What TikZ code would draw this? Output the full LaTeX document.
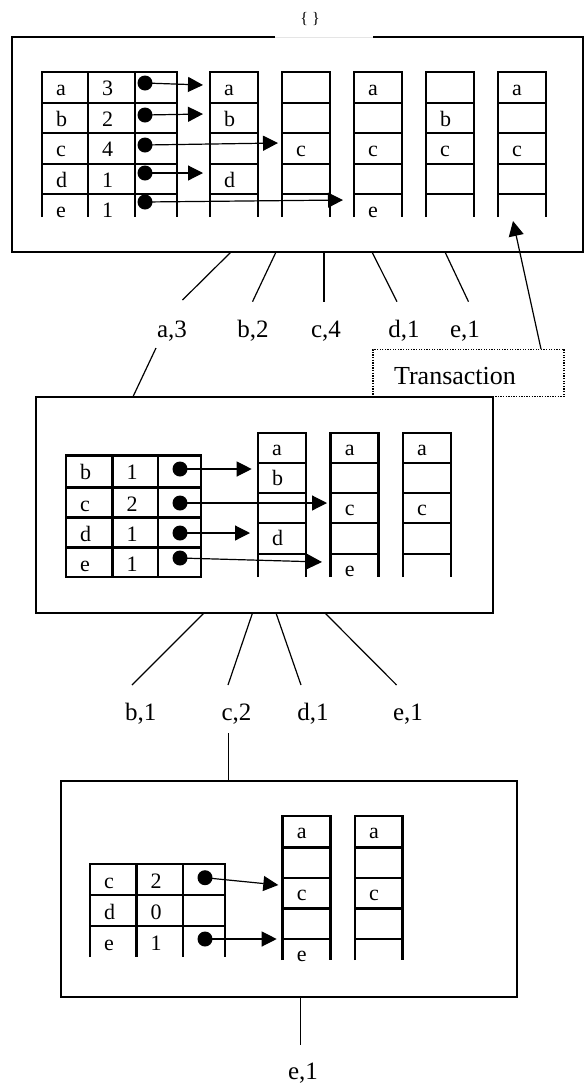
\documentclass[tikz,border=0pt]{standalone}
\usepackage{fontspec}
\setmainfont{Liberation Serif}
\usetikzlibrary{arrows.meta}
\begin{document}
\begin{tikzpicture}[x=1pt,y=-1pt,
  gridl/.style={line width=2.8pt,line join=miter},
  boxl/.style={line width=1.8pt},
  conn/.style={line width=1.2pt},
  arr/.style={line width=1.2pt,-{Triangle[length=15pt,width=15pt]}},
  dotc/.style={circle,fill=black,inner sep=0pt,minimum size=15pt},
  cell/.style={anchor=base west,inner sep=0pt,font=\fontsize{22}{26}\selectfont},
  lbl/.style={anchor=base,inner sep=0pt,font=\fontsize{25}{30}\selectfont}]
\useasboundingbox (0,0) rectangle (584,1085);

% ================= top box =================
\draw[boxl] (275,37) -- (12,37) -- (12,252) -- (583,252) -- (583,37) -- (373,37);
\draw[gray!20,line width=1pt] (275,37) -- (373,37);
\node[anchor=base,inner sep=0pt,font=\fontsize{16}{20}\selectfont] (empty) at (310,23) {\{ \}};

% table
\draw[gridl] (42,217) -- (42,72) -- (177,72) -- (177,217);
\foreach \x in {88,135} \draw[gridl] (\x,72) -- (\x,217);
\foreach \y in {103,133,164,194} \draw[gridl] (42,\y) -- (177,\y);
\foreach \n/\y/\k/\v in {1/72/a/3,2/103/b/2,3/133/c/4,4/164/d/1,5/194/e/1}{
  \node[cell] (tk\n) at (56,\y+23) {\k};
  \node[cell] (tv\n) at (102,\y+23) {\v};
}
% ladders
\foreach \x in {210,282,354,426,498}{
  \draw[gridl] (\x,217) -- (\x,72) -- (\x+48,72) -- (\x+48,217);
  \foreach \y in {103,133,164,194} \draw[gridl] (\x,\y) -- (\x+48,\y);
}
\foreach \n/\x/\y/\t in {1/210/72/a,2/210/103/b,3/210/164/d,
    4/282/133/c,
    5/354/72/a,6/354/133/c,7/354/194/e,
    8/426/103/b,9/426/133/c,
    10/498/72/a,11/498/133/c}{
  \node[cell] (tl\n) at (\x+14,\y+23) {\t};
}
% dots and arrows
\foreach \n/\y/\tx/\ty in {1/83/203/85,2/115/203/114,3/145/278/143,4/173/203/173,5/202/343/200}{
  \node[dotc] (td\n) at (145,\y) {};
  \coordinate (tt\n) at (\tx,\ty);
  \draw[arr] (td\n.center) -- (tt\n);
}

% connectors to labels
\coordinate (ts1) at (231,252);   \coordinate (te1) at (182.5,300);
\coordinate (ts2) at (276,252);   \coordinate (te2) at (252.5,301.7);
\coordinate (ts3) at (324,252);   \coordinate (te3) at (324,301.7);
\coordinate (ts4) at (372,252);   \coordinate (te4) at (397,301.7);
\coordinate (ts5) at (445,252);   \coordinate (te5) at (468.5,301.7);
\foreach \i in {1,...,5} \draw[conn] (ts\i) -- (te\i);
\node[lbl] (la3) at (172,337) {a,3};
\node[lbl] (lb2) at (253,337) {b,2};
\node[lbl] (lc4) at (326,337) {c,4};
\node[lbl] (ld1) at (404,337) {d,1};
\node[lbl] (le1) at (465,337) {e,1};

% Transaction
\node[draw,line width=1.3pt,dash pattern=on 1.3pt off 1.3pt,minimum width=191pt,minimum height=47pt,inner sep=0pt] (trans) at (468.5,372.7) {};
\node[lbl,font=\fontsize{26}{30}\selectfont] (transt) at (455,384) {Transaction};
\coordinate (tra) at (541,349);
\coordinate (trb) at (513,221);
\draw[arr] (tra) -- (trb);

% a,3 to middle box
\coordinate (ma) at (156,348);
\coordinate (mb) at (133,396.7);
\draw[conn] (ma) -- (mb);

% ================= middle box =================
\draw[boxl] (36,396.7) rectangle (492.7,612.7);
\draw[gridl] (66,455.7) rectangle (201,577);
\foreach \x in {112.7,158} \draw[gridl] (\x,455.7) -- (\x,577);
\foreach \y in {487.7,517.7,547.7} \draw[gridl] (66,\y) -- (201,\y);
\foreach \n/\y/\k/\v in {1/455.7/b/1,2/487.7/c/2,3/517.7/d/1,4/547.7/e/1}{
  \node[cell] (mk\n) at (80,\y+23.5) {\k};
  \node[cell] (mv\n) at (126.5,\y+23.5) {\v};
}
\foreach \x in {258,330.7,403}{
  \draw[gridl] (\x,577) -- (\x,433) -- (\x+48,433) -- (\x+48,577);
  \foreach \y in {463,493,523,554} \draw[gridl] (\x,\y) -- (\x+48,\y);
}
\foreach \n/\x/\y/\t in {1/258/433/a,2/258/463/b,3/258/523/d,
    4/330.7/433/a,5/330.7/493/c,6/330.7/554/e,
    7/403/433/a,8/403/493/c}{
  \node[cell] (ml\n) at (\x+14,\y+22.5) {\t};
}
\foreach \n/\y/\tx/\ty in {1/469/251.7/469,2/503/327/503,3/533/250/533,4/558/322/562}{
  \node[dotc] (md\n) at (180,\y) {};
  \coordinate (mt\n) at (\tx,\ty);
  \draw[arr] (md\n.center) -- (mt\n);
}
\coordinate (ms1) at (204,613);   \coordinate (me1) at (132,685);
\coordinate (ms2) at (252.5,613); \coordinate (me2) at (228,685);
\coordinate (ms3) at (276,613);   \coordinate (me3) at (301,685);
\coordinate (ms4) at (325,613);   \coordinate (me4) at (396.6,685);
\foreach \i in {1,...,4} \draw[conn] (ms\i) -- (me\i);
\node[lbl] (lb1) at (140.8,720) {b,1};
\node[lbl] (lc2) at (236.5,720) {c,2};
\node[lbl] (ld1b) at (313,720) {d,1};
\node[lbl] (le1b) at (408,720) {e,1};
\coordinate (ba) at (228.5,733);
\coordinate (bb) at (228.5,780.7);
\draw[conn] (ba) -- (bb);

% ================= bottom box =================
\draw[boxl] (61,780.7) rectangle (517,996.7);
\draw[gridl] (90,957) -- (90,864) -- (225,864) -- (225,957);
\foreach \x in {136.5,183} \draw[gridl] (\x,864) -- (\x,957);
\foreach \y in {895,926} \draw[gridl] (90,\y) -- (225,\y);
\foreach \n/\y/\k/\v in {1/864/c/2,2/895/d/0,3/926/e/1}{
  \node[cell] (bk\n) at (104,\y+24) {\k};
  \node[cell] (bv\n) at (150.5,\y+24) {\v};
}
\foreach \x in {282.7,355}{
  \draw[gridl] (\x,960) -- (\x,816) -- (\x+47.5,816) -- (\x+47.5,960);
  \foreach \y in {847.5,878,908.3,939} \draw[gridl] (\x,\y) -- (\x+47.5,\y);
}
\foreach \n/\x/\y/\t in {1/282.7/816/a,2/282.7/878/c,3/282.7/939/e,
    4/355/816/a,5/355/878/c}{
  \node[cell] (bl\n) at (\x+14,\y+22) {\t};
}
\foreach \n/\y/\tx/\ty in {1/877.7/278.3/885,2/939/276.7/939}{
  \node[dotc] (bd\n) at (205,\y) {};
  \coordinate (bt\n) at (\tx,\ty);
  \draw[arr] (bd\n.center) -- (bt\n);
}
\coordinate (ea) at (300.7,996.7);
\coordinate (eb) at (300.7,1045);
\draw[conn] (ea) -- (eb);
\node[lbl] (le1c) at (303,1079) {e,1};
\end{tikzpicture}
\end{document}
